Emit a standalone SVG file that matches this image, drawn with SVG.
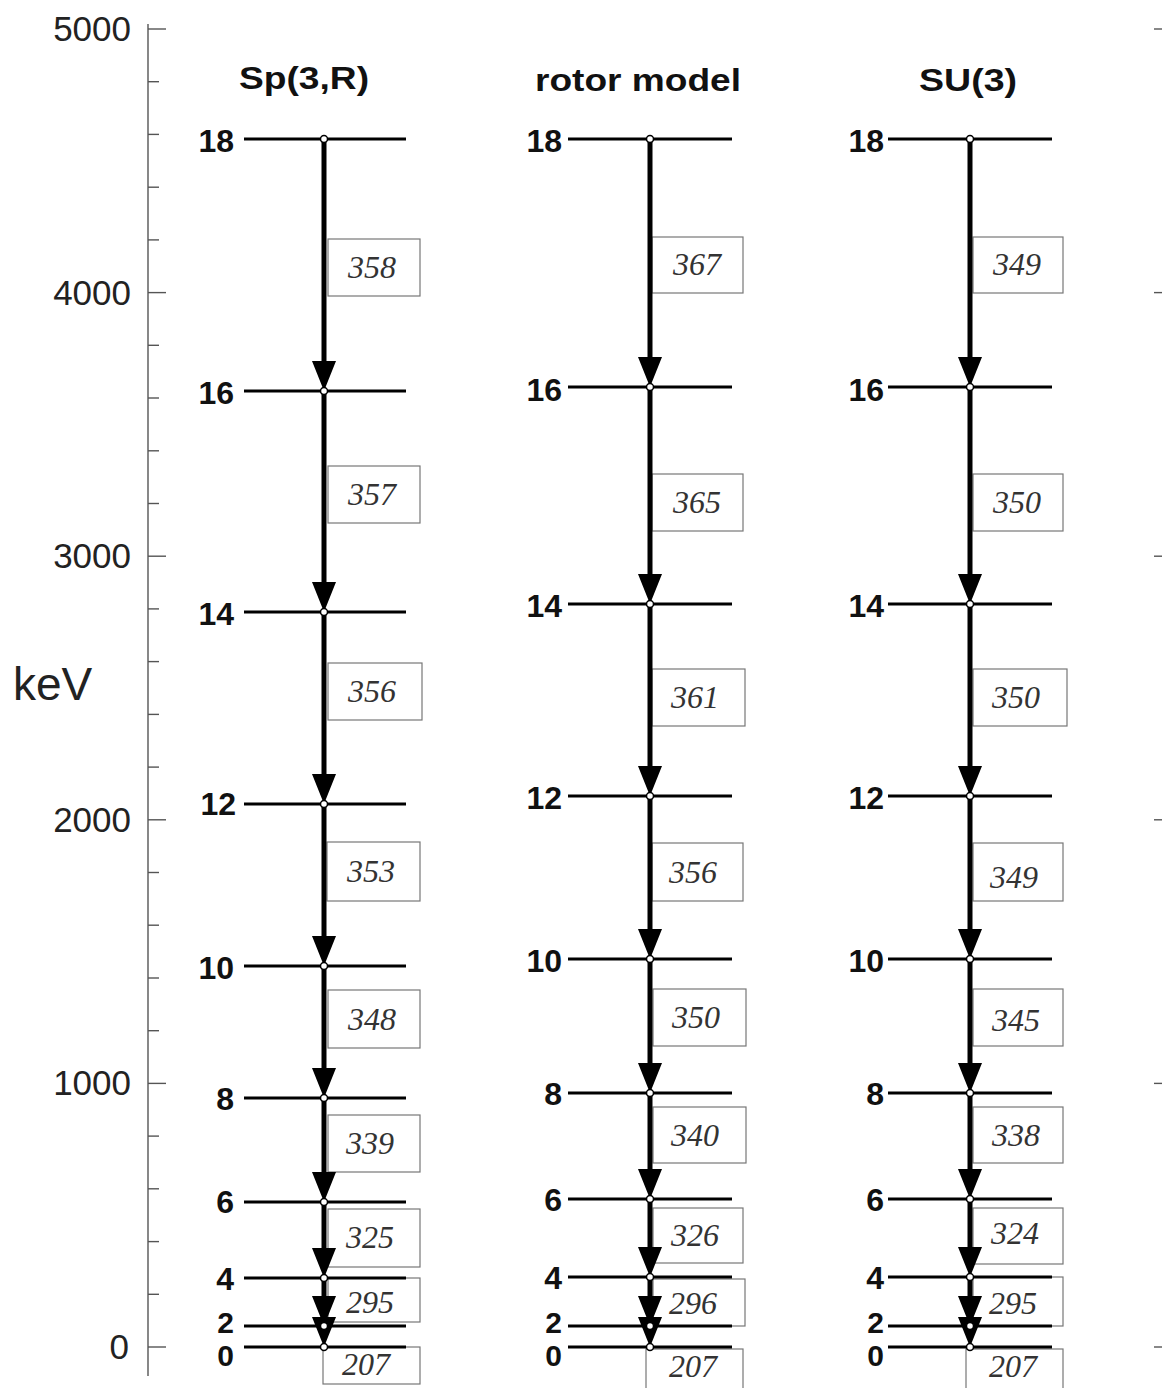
<svg xmlns="http://www.w3.org/2000/svg" width="1162" height="1388" viewBox="0 0 1162 1388">
<style>
.axis{stroke:#555;stroke-width:1.4;fill:none}
.tick{stroke:#555;stroke-width:1.4}
.anum{font-family:"Liberation Sans",Arial,sans-serif;font-size:35px;fill:#222;text-anchor:end}
.title{font-family:"Liberation Sans",Arial,sans-serif;font-size:32px;font-weight:bold;fill:#111;text-anchor:middle}
.lvl{stroke:#000;stroke-width:3}
.lab{font-family:"Liberation Sans",Arial,sans-serif;font-size:32px;font-weight:bold;fill:#111;text-anchor:end}
.lab.sm{font-size:30px}
.dot{fill:#fff;stroke:#000;stroke-width:1.5}
.tr{stroke:#000;stroke-width:5;fill:none;marker-end:url(#ah)}
.box{fill:none;stroke:#777;stroke-width:1.2}
.bv{font-family:"Liberation Serif","Times New Roman",serif;font-style:italic;font-size:32px;fill:#333;text-anchor:middle}
</style>
<defs>
<marker id="ah" viewBox="0 0 30 24" markerWidth="30" markerHeight="24" refX="20" refY="12" orient="auto" markerUnits="userSpaceOnUse">
<path d="M0,0 L30,12 L0,24 Z" fill="#000"/>
</marker>
</defs>
<rect width="1162" height="1388" fill="#fff"/>

<g id="axis">
<line class="axis" x1="148" y1="24" x2="148" y2="1376"/>
<g class="tick">
<line x1="148" y1="29" x2="166" y2="29"/><line x1="148" y1="81.7" x2="159" y2="81.7"/><line x1="148" y1="134.4" x2="159" y2="134.4"/><line x1="148" y1="187.2" x2="159" y2="187.2"/><line x1="148" y1="239.9" x2="159" y2="239.9"/>
<line x1="148" y1="292.6" x2="166" y2="292.6"/><line x1="148" y1="345.3" x2="159" y2="345.3"/><line x1="148" y1="398" x2="159" y2="398"/><line x1="148" y1="450.8" x2="159" y2="450.8"/><line x1="148" y1="503.5" x2="159" y2="503.5"/>
<line x1="148" y1="556.2" x2="166" y2="556.2"/><line x1="148" y1="608.9" x2="159" y2="608.9"/><line x1="148" y1="661.6" x2="159" y2="661.6"/><line x1="148" y1="714.4" x2="159" y2="714.4"/><line x1="148" y1="767.1" x2="159" y2="767.1"/>
<line x1="148" y1="819.8" x2="166" y2="819.8"/><line x1="148" y1="872.5" x2="159" y2="872.5"/><line x1="148" y1="925.2" x2="159" y2="925.2"/><line x1="148" y1="978" x2="159" y2="978"/><line x1="148" y1="1030.7" x2="159" y2="1030.7"/>
<line x1="148" y1="1083.4" x2="166" y2="1083.4"/><line x1="148" y1="1136.1" x2="159" y2="1136.1"/><line x1="148" y1="1188.8" x2="159" y2="1188.8"/><line x1="148" y1="1241.6" x2="159" y2="1241.6"/><line x1="148" y1="1294.3" x2="159" y2="1294.3"/>
<line x1="148" y1="1347" x2="166" y2="1347"/>
<line x1="1154" y1="29" x2="1162" y2="29"/><line x1="1154" y1="292.6" x2="1162" y2="292.6"/><line x1="1154" y1="556.2" x2="1162" y2="556.2"/><line x1="1154" y1="819.8" x2="1162" y2="819.8"/><line x1="1154" y1="1083.4" x2="1162" y2="1083.4"/><line x1="1154" y1="1347" x2="1162" y2="1347"/>
</g>
<text class="anum" x="131" y="41">5000</text>
<text class="anum" x="131" y="305">4000</text>
<text class="anum" x="131" y="568">3000</text>
<text class="anum" x="131" y="832">2000</text>
<text class="anum" x="131" y="1095">1000</text>
<text class="anum" x="129" y="1359">0</text>
<text x="13" y="700" font-family="Liberation Sans, Arial, sans-serif" font-size="46" fill="#222">keV</text>
</g>

<g id="titles">
<text class="title" x="304" y="89" textLength="130" lengthAdjust="spacingAndGlyphs">Sp(3,R)</text>
<text class="title" x="638" y="91" textLength="206" lengthAdjust="spacingAndGlyphs">rotor model</text>
<text class="title" x="968" y="91" textLength="98" lengthAdjust="spacingAndGlyphs">SU(3)</text>
</g>

<g id="values">
<g id="sp-vals">
<rect class="box" x="328" y="239" width="92" height="57"/><text class="bv" x="372" y="278">358</text>
<rect class="box" x="328" y="466" width="92" height="57"/><text class="bv" x="372" y="505">357</text>
<rect class="box" x="328" y="663" width="94" height="57"/><text class="bv" x="372" y="702">356</text>
<rect class="box" x="327" y="842" width="93" height="59"/><text class="bv" x="371" y="882">353</text>
<rect class="box" x="328" y="990" width="92" height="58"/><text class="bv" x="372" y="1030">348</text>
<rect class="box" x="328" y="1115" width="92" height="57"/><text class="bv" x="370" y="1154">339</text>
<rect class="box" x="328" y="1209" width="92" height="58"/><text class="bv" x="370" y="1248">325</text>
<rect class="box" x="328" y="1278" width="92" height="44"/><text class="bv" x="370" y="1313">295</text>
<rect class="box" x="323" y="1347" width="97" height="37"/><text class="bv" x="366" y="1375">207</text>
</g>
<g id="ro-vals">
<rect class="box" x="652" y="237" width="91" height="56"/><text class="bv" x="697" y="275">367</text>
<rect class="box" x="652" y="474" width="91" height="57"/><text class="bv" x="697" y="513">365</text>
<rect class="box" x="652" y="669" width="93" height="57"/><text class="bv" x="695" y="708">361</text>
<rect class="box" x="652" y="843" width="91" height="58"/><text class="bv" x="693" y="883">356</text>
<rect class="box" x="653" y="989" width="93" height="57"/><text class="bv" x="696" y="1028">350</text>
<rect class="box" x="653" y="1107" width="93" height="56"/><text class="bv" x="695" y="1146">340</text>
<rect class="box" x="653" y="1208" width="90" height="55"/><text class="bv" x="695" y="1246">326</text>
<rect class="box" x="653" y="1279" width="92" height="47"/><text class="bv" x="693" y="1314">296</text>
<rect class="box" x="646" y="1349" width="97" height="45"/><text class="bv" x="693" y="1377">207</text>
</g>
<g id="su-vals">
<rect class="box" x="973" y="237" width="90" height="56"/><text class="bv" x="1017" y="275">349</text>
<rect class="box" x="973" y="474" width="90" height="57"/><text class="bv" x="1017" y="513">350</text>
<rect class="box" x="973" y="669" width="94" height="57"/><text class="bv" x="1016" y="708">350</text>
<rect class="box" x="973" y="843" width="90" height="58"/><text class="bv" x="1014" y="888">349</text>
<rect class="box" x="973" y="989" width="90" height="57"/><text class="bv" x="1016" y="1031">345</text>
<rect class="box" x="973" y="1107" width="90" height="56"/><text class="bv" x="1016" y="1146">338</text>
<rect class="box" x="973" y="1208" width="90" height="56"/><text class="bv" x="1015" y="1244">324</text>
<rect class="box" x="973" y="1277" width="90" height="49"/><text class="bv" x="1013" y="1314">295</text>
<rect class="box" x="966" y="1349" width="97" height="45"/><text class="bv" x="1013" y="1377">207</text>
</g>
</g>

<g id="sp3r">
<g id="sp-18"><line class="lvl" x1="244" y1="139" x2="406" y2="139"/><text class="lab" x="234" y="152">18</text></g>
<g id="sp-16"><line class="lvl" x1="244" y1="391" x2="406" y2="391"/><text class="lab" x="234" y="404">16</text></g>
<g id="sp-14"><line class="lvl" x1="244" y1="612" x2="406" y2="612"/><text class="lab" x="234" y="625">14</text></g>
<g id="sp-12"><line class="lvl" x1="244" y1="804" x2="406" y2="804"/><text class="lab" x="236" y="815">12</text></g>
<g id="sp-10"><line class="lvl" x1="244" y1="966" x2="406" y2="966"/><text class="lab" x="234" y="979">10</text></g>
<g id="sp-8"><line class="lvl" x1="244" y1="1098" x2="406" y2="1098"/><text class="lab" x="234" y="1110">8</text></g>
<g id="sp-6"><line class="lvl" x1="244" y1="1202" x2="406" y2="1202"/><text class="lab" x="234" y="1213">6</text></g>
<g id="sp-4"><line class="lvl" x1="244" y1="1278" x2="406" y2="1278"/><text class="lab" x="234" y="1290">4</text></g>
<g id="sp-2"><line class="lvl" x1="244" y1="1326" x2="406" y2="1326"/><text class="lab sm" x="234" y="1333">2</text></g>
<g id="sp-0"><line class="lvl" x1="244" y1="1347" x2="406" y2="1347"/><text class="lab sm" x="234" y="1366">0</text></g>
</g>

<g id="rotor">
<g id="ro-18"><line class="lvl" x1="568" y1="139" x2="732" y2="139"/><text class="lab" x="562" y="152">18</text></g>
<g id="ro-16"><line class="lvl" x1="568" y1="387" x2="732" y2="387"/><text class="lab" x="562" y="401">16</text></g>
<g id="ro-14"><line class="lvl" x1="568" y1="604" x2="732" y2="604"/><text class="lab" x="562" y="617">14</text></g>
<g id="ro-12"><line class="lvl" x1="568" y1="796" x2="732" y2="796"/><text class="lab" x="562" y="809">12</text></g>
<g id="ro-10"><line class="lvl" x1="568" y1="959" x2="732" y2="959"/><text class="lab" x="562" y="972">10</text></g>
<g id="ro-8"><line class="lvl" x1="568" y1="1093" x2="732" y2="1093"/><text class="lab" x="562" y="1105">8</text></g>
<g id="ro-6"><line class="lvl" x1="568" y1="1199" x2="732" y2="1199"/><text class="lab" x="562" y="1211">6</text></g>
<g id="ro-4"><line class="lvl" x1="568" y1="1277" x2="732" y2="1277"/><text class="lab" x="562" y="1289">4</text></g>
<g id="ro-2"><line class="lvl" x1="568" y1="1326" x2="732" y2="1326"/><text class="lab sm" x="562" y="1333">2</text></g>
<g id="ro-0"><line class="lvl" x1="568" y1="1347" x2="732" y2="1347"/><text class="lab sm" x="562" y="1366">0</text></g>
</g>

<g id="su3">
<g id="su-18"><line class="lvl" x1="888" y1="139" x2="1052" y2="139"/><text class="lab" x="884" y="152">18</text></g>
<g id="su-16"><line class="lvl" x1="888" y1="387" x2="1052" y2="387"/><text class="lab" x="884" y="401">16</text></g>
<g id="su-14"><line class="lvl" x1="888" y1="604" x2="1052" y2="604"/><text class="lab" x="884" y="617">14</text></g>
<g id="su-12"><line class="lvl" x1="888" y1="796" x2="1052" y2="796"/><text class="lab" x="884" y="809">12</text></g>
<g id="su-10"><line class="lvl" x1="888" y1="959" x2="1052" y2="959"/><text class="lab" x="884" y="972">10</text></g>
<g id="su-8"><line class="lvl" x1="888" y1="1093" x2="1052" y2="1093"/><text class="lab" x="884" y="1105">8</text></g>
<g id="su-6"><line class="lvl" x1="888" y1="1199" x2="1052" y2="1199"/><text class="lab" x="884" y="1211">6</text></g>
<g id="su-4"><line class="lvl" x1="888" y1="1277" x2="1052" y2="1277"/><text class="lab" x="884" y="1289">4</text></g>
<g id="su-2"><line class="lvl" x1="888" y1="1326" x2="1052" y2="1326"/><text class="lab sm" x="884" y="1333">2</text></g>
<g id="su-0"><line class="lvl" x1="888" y1="1347" x2="1052" y2="1347"/><text class="lab sm" x="884" y="1366">0</text></g>
</g>

<g id="connectors">
<path class="tr" d="M324,139 V381"/>
<path class="tr" d="M324,391 V602"/>
<path class="tr" d="M324,612 V794"/>
<path class="tr" d="M324,804 V956"/>
<path class="tr" d="M324,966 V1088"/>
<path class="tr" d="M324,1098 V1192"/>
<path class="tr" d="M324,1202 V1268"/>
<path class="tr" d="M324,1278 V1316"/>
<path class="tr" d="M324,1326 V1337"/>
<path class="tr" d="M650,139 V377"/>
<path class="tr" d="M650,387 V594"/>
<path class="tr" d="M650,604 V786"/>
<path class="tr" d="M650,796 V949"/>
<path class="tr" d="M650,959 V1083"/>
<path class="tr" d="M650,1093 V1189"/>
<path class="tr" d="M650,1199 V1267"/>
<path class="tr" d="M650,1277 V1316"/>
<path class="tr" d="M650,1326 V1337"/>
<path class="tr" d="M970,139 V377"/>
<path class="tr" d="M970,387 V594"/>
<path class="tr" d="M970,604 V786"/>
<path class="tr" d="M970,796 V949"/>
<path class="tr" d="M970,959 V1083"/>
<path class="tr" d="M970,1093 V1189"/>
<path class="tr" d="M970,1199 V1267"/>
<path class="tr" d="M970,1277 V1316"/>
<path class="tr" d="M970,1326 V1337"/>
</g>

<g id="dots">
<circle class="dot" cx="324" cy="139" r="3.5"/><circle class="dot" cx="324" cy="391" r="3.5"/><circle class="dot" cx="324" cy="612" r="3.5"/><circle class="dot" cx="324" cy="804" r="3.5"/><circle class="dot" cx="324" cy="966" r="3.5"/><circle class="dot" cx="324" cy="1098" r="3.5"/><circle class="dot" cx="324" cy="1202" r="3.5"/><circle class="dot" cx="324" cy="1278" r="3.5"/><circle class="dot" cx="324" cy="1326" r="3.5"/><circle class="dot" cx="324" cy="1347" r="3.5"/>
<circle class="dot" cx="650" cy="139" r="3.5"/><circle class="dot" cx="650" cy="387" r="3.5"/><circle class="dot" cx="650" cy="604" r="3.5"/><circle class="dot" cx="650" cy="796" r="3.5"/><circle class="dot" cx="650" cy="959" r="3.5"/><circle class="dot" cx="650" cy="1093" r="3.5"/><circle class="dot" cx="650" cy="1199" r="3.5"/><circle class="dot" cx="650" cy="1277" r="3.5"/><circle class="dot" cx="650" cy="1326" r="3.5"/><circle class="dot" cx="650" cy="1347" r="3.5"/>
<circle class="dot" cx="970" cy="139" r="3.5"/><circle class="dot" cx="970" cy="387" r="3.5"/><circle class="dot" cx="970" cy="604" r="3.5"/><circle class="dot" cx="970" cy="796" r="3.5"/><circle class="dot" cx="970" cy="959" r="3.5"/><circle class="dot" cx="970" cy="1093" r="3.5"/><circle class="dot" cx="970" cy="1199" r="3.5"/><circle class="dot" cx="970" cy="1277" r="3.5"/><circle class="dot" cx="970" cy="1326" r="3.5"/><circle class="dot" cx="970" cy="1347" r="3.5"/>
</g>
</svg>
